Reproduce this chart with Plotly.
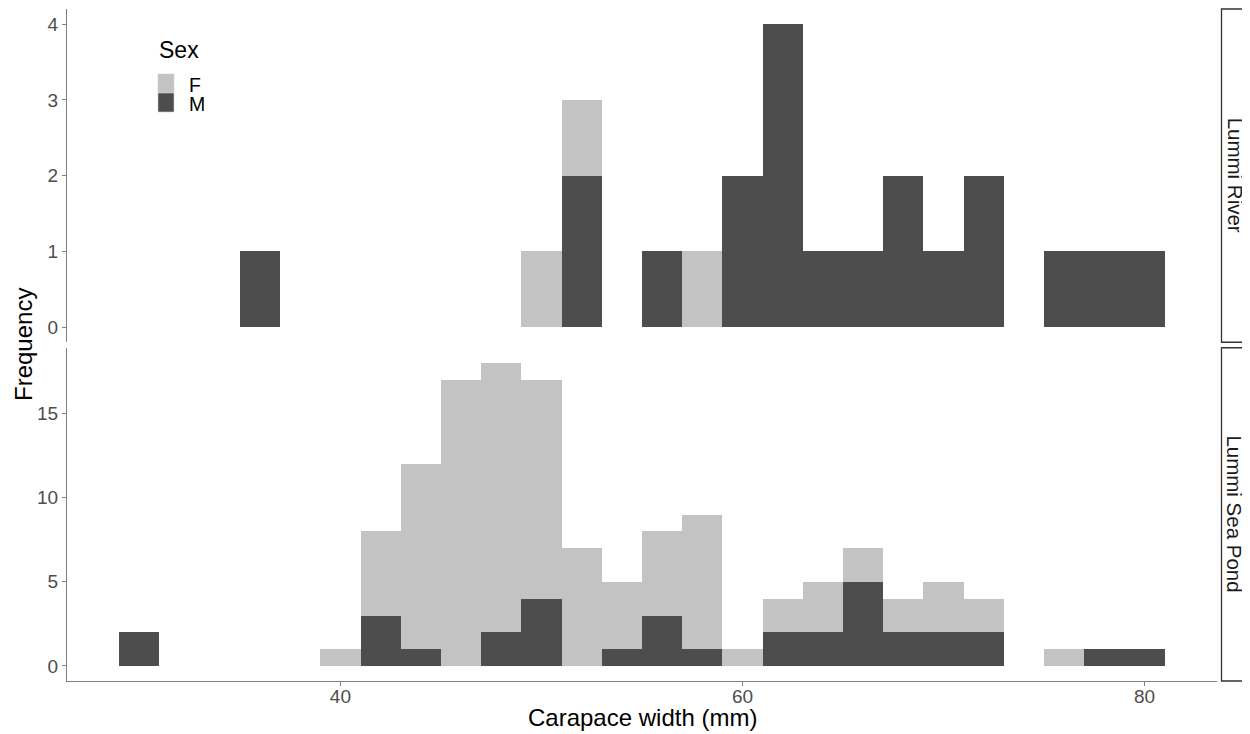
import plotly.graph_objects as go
from plotly.subplots import make_subplots

# Bin centres (bin width 2 mm, bins 29-31 ... 79-81)
bin_centers = [30, 32, 34, 36, 38, 40, 42, 44, 46, 48, 50, 52, 54,
               56, 58, 60, 62, 64, 66, 68, 70, 72, 74, 76, 78, 80]
bin_width = 2

river_F = [0, 0, 0, 0, 0, 0, 0, 0, 0, 0, 1, 1, 0, 0, 1, 0, 0, 0, 0, 0, 0, 0, 0, 0, 0, 0]
river_M = [0, 0, 0, 1, 0, 0, 0, 0, 0, 0, 0, 2, 0, 1, 0, 2, 4, 1, 1, 2, 1, 2, 0, 1, 1, 1]
pond_F = [0, 0, 0, 0, 0, 1, 5, 11, 17, 16, 13, 7, 4, 5, 8, 1, 2, 3, 2, 2, 3, 2, 0, 1, 0, 0]
pond_M = [2, 0, 0, 0, 0, 0, 3, 1, 0, 2, 4, 0, 1, 3, 1, 0, 2, 2, 5, 2, 2, 2, 0, 0, 1, 1]

facets = ["Lummi River", "Lummi Sea Pond"]
sexes = ["F", "M"]
x_ticks = [40, 60, 80]
river_ticks = [0, 1, 2, 3, 4]
pond_ticks = [0, 5, 10, 15]

COLORS = {"F": "#C3C3C3", "M": "#4D4D4D"}
FONT = "Liberation Sans, Arial, sans-serif"

# page body has an 8px margin -> figure origin at (8, 8) of the screenshot
OFF = 8
W, H = 1250 - OFF, 734 - OFF
L, T = 67 - OFF, 9 - OFF
PR, PB = 1217 - OFF, 681 - OFF          # plot right / bottom in figure px
R, B = W - PR, H - PB
PW, PH = PR - L, PB - T


def px(xs):   # screenshot x -> paper x
    return (xs - OFF - L) / PW


def py(ys):   # screenshot y -> paper y
    return (PB - (ys - OFF)) / PH


fig = make_subplots(rows=2, cols=1, shared_xaxes=True, vertical_spacing=5.5 / PH)

for row, counts in enumerate([{"M": river_M, "F": river_F}, {"M": pond_M, "F": pond_F}], start=1):
    for sex in ["M", "F"]:   # M stacked at the bottom
        fig.add_trace(go.Bar(x=bin_centers, y=counts[sex], width=bin_width, name=sex,
                             marker=dict(color=COLORS[sex], line=dict(width=0)),
                             showlegend=False), row=row, col=1)

axis_common = dict(showgrid=False, zeroline=False, showline=True, linecolor="#808080",
                   linewidth=1.2, ticks="outside", ticklen=4, tickcolor="#808080",
                   automargin=False,
                   tickfont=dict(family=FONT, size=19, color="#4D4D4D"))

fig.update_xaxes(range=[26.4, 83.6], tickvals=x_ticks, ticklabelstandoff=-6, **axis_common)
fig.update_xaxes(showline=False, ticks="", row=1, col=1)
fig.update_yaxes(**axis_common)
fig.update_yaxes(range=[-0.2, 4.2], tickvals=river_ticks, row=1, col=1)
fig.update_yaxes(range=[-0.9, 18.9], tickvals=pond_ticks, row=2, col=1)

# Axis titles
fig.add_annotation(text="Frequency", xref="paper", yref="paper", x=px(23), y=0.5,
                   xanchor="center", yanchor="middle", textangle=-90, showarrow=False,
                   font=dict(family=FONT, size=24, color="black"))
fig.add_annotation(text="Carapace width (mm)", xref="paper", yref="paper", x=0.5,
                   y=py(717), xanchor="center", yanchor="middle", showarrow=False,
                   font=dict(family=FONT, size=24, color="black"))

# Facet strips on right
dom_top = fig.layout.yaxis.domain
dom_bot = fig.layout.yaxis2.domain
sx0, sx1 = px(1221.5), px(1248.5)
for name, dom in zip(facets, [dom_top, dom_bot]):
    fig.add_shape(type="rect", xref="paper", yref="paper", x0=sx0, x1=sx1,
                  y0=dom[0], y1=dom[1], line=dict(color="#333333", width=1.3), fillcolor="white")
    fig.add_annotation(text=name, xref="paper", yref="paper", x=(sx0 + sx1) / 2,
                       y=(dom[0] + dom[1]) / 2,
                       xanchor="center", yanchor="middle", textangle=90, showarrow=False,
                       font=dict(family=FONT, size=20.5, color="#1A1A1A"))

# Legend (ggplot-style, drawn in the top panel)
fig.add_annotation(text="Sex", xref="paper", yref="paper", x=px(157), y=py(50.5),
                   xanchor="left", yanchor="middle", showarrow=False,
                   font=dict(family=FONT, size=23, color="black"))
key_top = 74
key_h = 19
for i, sex in enumerate(sexes):
    y0 = key_top + i * key_h
    fig.add_shape(type="rect", xref="paper", yref="paper", x0=px(158), x1=px(174),
                  y0=py(y0 + key_h), y1=py(y0), fillcolor=COLORS[sex],
                  line=dict(color="#D0D0D0", width=0.6))
    fig.add_annotation(text=sex, xref="paper", yref="paper", x=px(187), y=py(y0 + key_h / 2 + 1),
                       xanchor="left", yanchor="middle", showarrow=False,
                       font=dict(family=FONT, size=19.5, color="black"))

fig.update_layout(
    width=W, height=H,
    margin=dict(l=L, r=R, t=T, b=B, autoexpand=False),
    barmode="stack", bargap=0,
    plot_bgcolor="white", paper_bgcolor="white",
    font=dict(family=FONT),
    showlegend=False,
)

fig.write_html("out.html")
